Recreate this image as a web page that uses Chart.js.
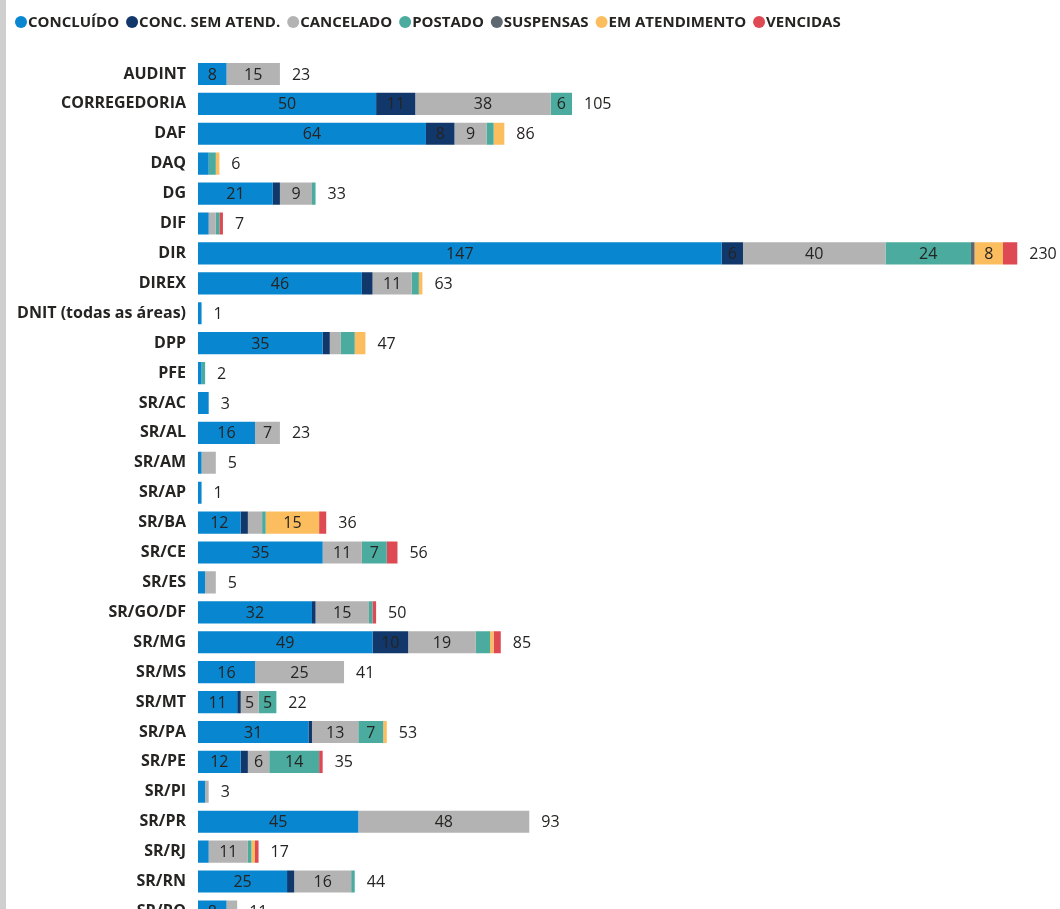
<!DOCTYPE html>
<html>
<head>
<meta charset="utf-8">
<script src="https://cdn.jsdelivr.net/npm/chart.js@4"></script>
<style>
    html, body { margin: 0; padding: 0; background: #fff; overflow: hidden; }
    #edge { position: absolute; left: 0; top: 0; width: 6px; height: 909px; background: #cfcfcf; }
    #chart { position: absolute; left: 0; top: 0; }
</style>
</head>
<body>
<div id="edge"></div>
<canvas id="chart" width="1060" height="948"></canvas>
<script>
// =======================
// DATA
// =======================
let categories = ["AUDINT", "CORREGEDORIA", "DAF", "DAQ", "DG", "DIF", "DIR", "DIREX",
    "DNIT (todas as áreas)", "DPP", "PFE", "SR/AC", "SR/AL", "SR/AM", "SR/AP", "SR/BA",
    "SR/CE", "SR/ES", "SR/GO/DF", "SR/MG", "SR/MS", "SR/MT", "SR/PA", "SR/PE", "SR/PI",
    "SR/PR", "SR/RJ", "SR/RN", "SR/RO"];

let concluido     = [8, 50, 64, 3, 21, 3, 147, 46, 1, 35, 1, 3, 16, 1, 1, 12, 35, 2, 32, 49, 16, 11, 31, 12, 2, 45, 3, 25, 8];
let concSemAtend  = [0, 11, 8, 0, 2, 0, 6, 3, 0, 2, 0, 0, 0, 0, 0, 2, 0, 0, 1, 10, 0, 1, 1, 2, 0, 0, 0, 2, 0];
let cancelado     = [15, 38, 9, 0, 9, 2, 40, 11, 0, 3, 0, 0, 7, 4, 0, 4, 11, 3, 15, 19, 25, 5, 13, 6, 1, 48, 11, 16, 3];
let postado       = [0, 6, 2, 2, 1, 1, 24, 2, 0, 4, 1, 0, 0, 0, 0, 1, 7, 0, 1, 4, 0, 5, 7, 14, 0, 0, 1, 1, 0];
let suspensas     = [0, 0, 0, 0, 0, 0, 1, 0, 0, 0, 0, 0, 0, 0, 0, 0, 0, 0, 0, 0, 0, 0, 0, 0, 0, 0, 0, 0, 0];
let emAtendimento = [0, 0, 3, 1, 0, 0, 8, 1, 0, 3, 0, 0, 0, 0, 0, 15, 0, 0, 0, 1, 0, 0, 1, 0, 0, 0, 1, 0, 0];
let vencidas      = [0, 0, 0, 0, 0, 1, 4, 0, 0, 0, 0, 0, 0, 0, 0, 2, 3, 0, 1, 2, 0, 0, 0, 1, 0, 0, 1, 0, 0];

let seriesNames = ["CONCLUÍDO", "CONC. SEM ATEND.", "CANCELADO", "POSTADO", "SUSPENSAS", "EM ATENDIMENTO", "VENCIDAS"];
let seriesColors = ["#0886cf", "#12386b", "#b3b3b3", "#4aab9e", "#5d6770", "#fcbd5f", "#de4953"];
let seriesData = [concluido, concSemAtend, cancelado, postado, suspensas, emAtendimento, vencidas];

let totals = categories.map((c, i) => seriesData.reduce((s, d) => s + d[i], 0));

// =======================
// LABEL PLUGIN
// =======================
const barLabels = {
    id: "barLabels",
    afterDatasetsDraw(chart) {
        let ctx = chart.ctx;
        ctx.save();
        ctx.font = "16px 'Open Sans'";
        ctx.fillStyle = "#252423";
        ctx.textBaseline = "middle";

        // values inside segments
        ctx.textAlign = "center";
        chart.data.datasets.forEach((ds, i) => {
            chart.getDatasetMeta(i).data.forEach((bar, j) => {
                let v = ds.data[j];
                if (v >= 5) {
                    ctx.fillText(v, (bar.x + bar.base) / 2, bar.y + 1);
                }
            });
        });

        // totals at the end of each bar
        ctx.textAlign = "left";
        let x = chart.scales.x;
        let y = chart.scales.y;
        totals.forEach((t, j) => {
            ctx.fillText(t, x.getPixelForValue(t) + 12, y.getPixelForValue(j) + 1);
        });
        ctx.restore();
    }
};

// =======================
// LEGEND PLUGIN (tight, left aligned)
// =======================
const topLegend = {
    id: "topLegend",
    afterDraw(chart) {
        let ctx = chart.ctx;
        ctx.save();
        ctx.font = "bold 15px 'Open Sans'";
        ctx.textBaseline = "middle";
        ctx.textAlign = "left";
        let cx = 15;
        let cy = 22;
        chart.data.datasets.forEach(ds => {
            ctx.fillStyle = ds.backgroundColor;
            ctx.beginPath();
            ctx.arc(cx + 6, cy, 6, 0, Math.PI * 2);
            ctx.fill();
            ctx.fillStyle = "#252423";
            ctx.fillText(ds.label, cx + 13, cy + 1);
            cx += 13 + ctx.measureText(ds.label).width + 7;
        });
        ctx.restore();
    }
};

// =======================
// CHART
// =======================
new Chart(document.getElementById("chart"), {
    type: "bar",
    data: {
        labels: categories,
        datasets: seriesData.map((d, i) => ({
            label: seriesNames[i],
            data: d,
            backgroundColor: seriesColors[i],
            borderWidth: 0,
            categoryPercentage: 1,
            barPercentage: 0.74
        }))
    },
    options: {
        indexAxis: "y",
        responsive: false,
        animation: false,
        layout: { padding: { top: 59, left: 0, right: 0, bottom: 0 } },
        scales: {
            x: {
                stacked: true,
                display: false,
                min: 0,
                max: 242
            },
            y: {
                stacked: true,
                grid: { display: false, drawTicks: false },
                border: { display: false },
                ticks: {
                    autoSkip: false,
                    padding: 12,
                    color: "#252423",
                    font: { family: "Open Sans", size: 16, weight: "bold" }
                },
                afterFit(scale) { scale.width = 198; }
            }
        },
        plugins: {
            legend: { display: false },
            tooltip: { enabled: false }
        }
    },
    plugins: [barLabels, topLegend]
});
</script>
</body>
</html>
